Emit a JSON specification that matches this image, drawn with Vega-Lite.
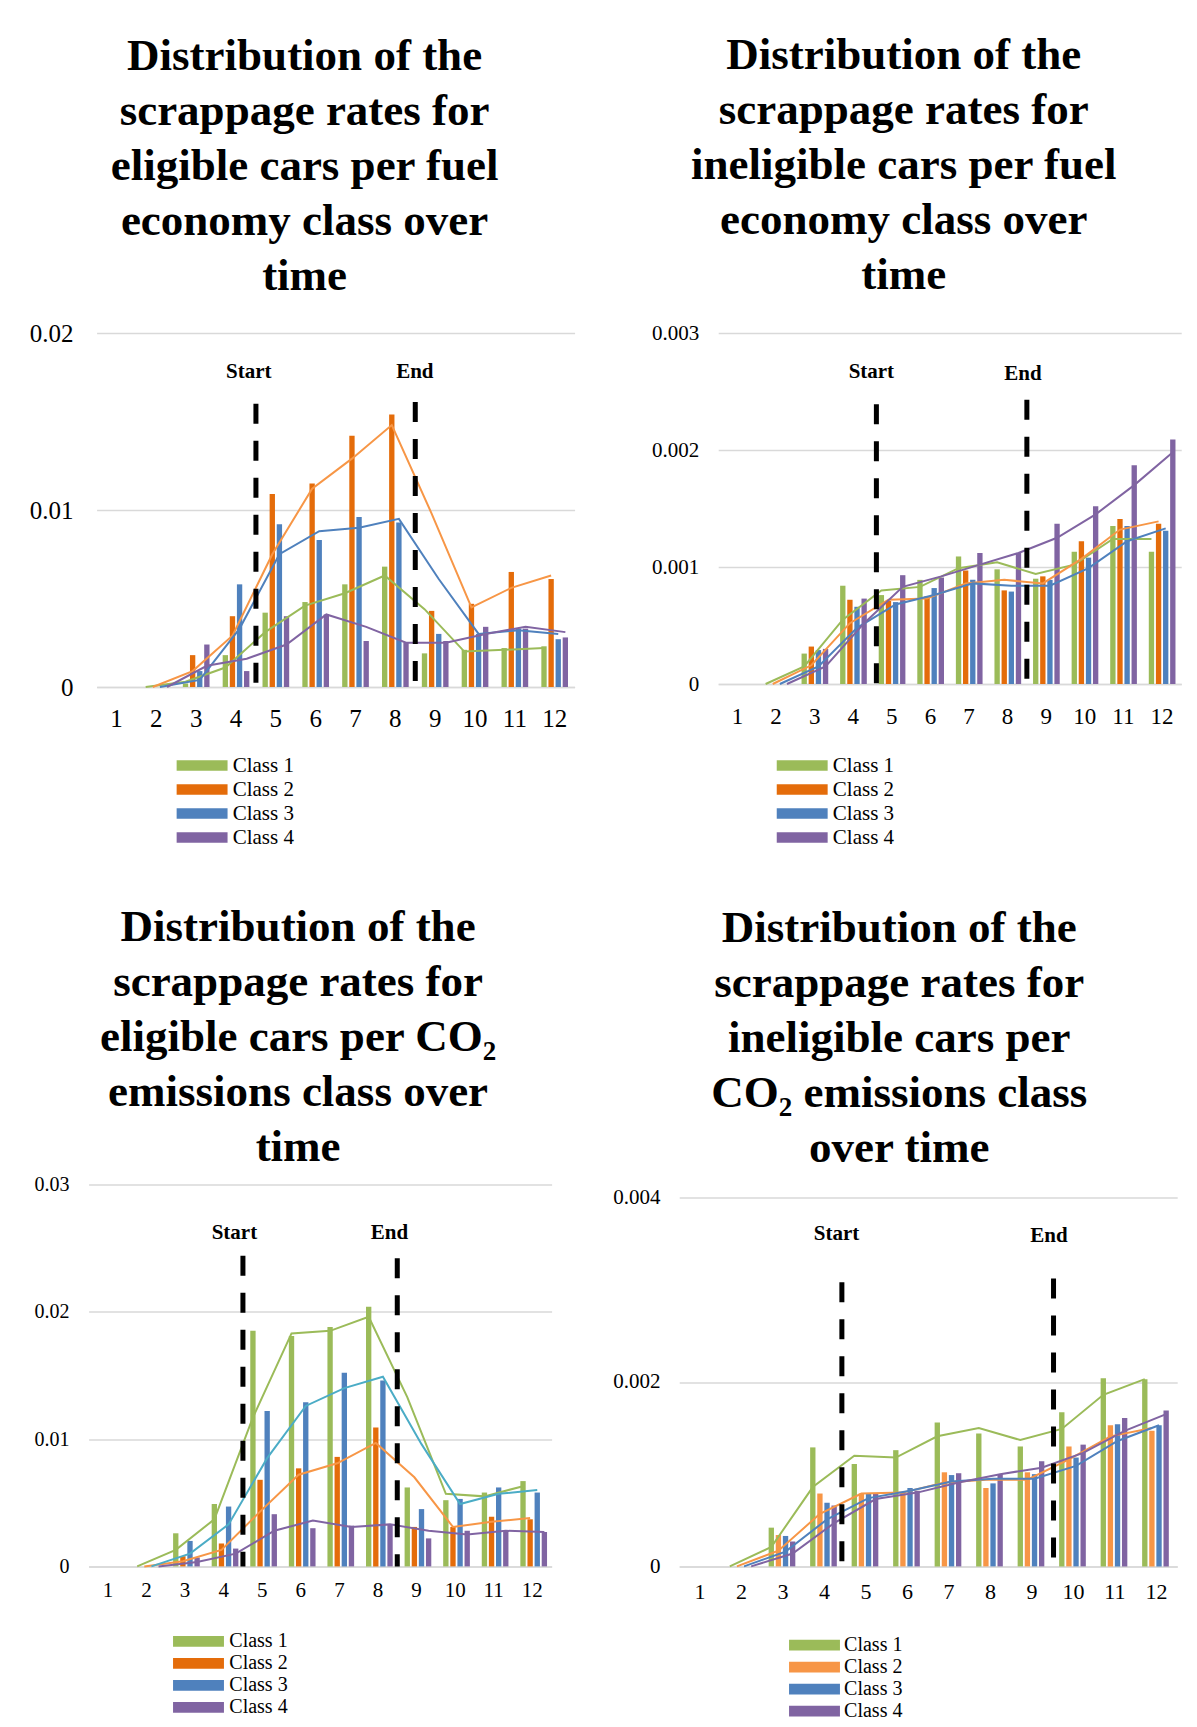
{
"$schema": "https://vega.github.io/schema/vega-lite/v6.json",
"background": "white",
"padding": {"left": 0, "top": 33, "right": 5, "bottom": 5},
"datasets": {
"b1": [
{"c":3,"k":"Class 1","v":0.0002},{"c":4,"k":"Class 1","v":0.0018},{"c":5,"k":"Class 1","v":0.0042},{"c":6,"k":"Class 1","v":0.0048},{"c":7,"k":"Class 1","v":0.0058},{"c":8,"k":"Class 1","v":0.0068},{"c":9,"k":"Class 1","v":0.0019},{"c":10,"k":"Class 1","v":0.0021},{"c":11,"k":"Class 1","v":0.0022},{"c":12,"k":"Class 1","v":0.0023},
{"c":3,"k":"Class 2","v":0.0018},{"c":4,"k":"Class 2","v":0.0040},{"c":5,"k":"Class 2","v":0.0109},{"c":6,"k":"Class 2","v":0.0115},{"c":7,"k":"Class 2","v":0.0142},{"c":8,"k":"Class 2","v":0.0154},{"c":9,"k":"Class 2","v":0.0043},{"c":10,"k":"Class 2","v":0.0047},{"c":11,"k":"Class 2","v":0.0065},{"c":12,"k":"Class 2","v":0.0061},
{"c":3,"k":"Class 3","v":0.0009},{"c":4,"k":"Class 3","v":0.0058},{"c":5,"k":"Class 3","v":0.0092},{"c":6,"k":"Class 3","v":0.0083},{"c":7,"k":"Class 3","v":0.0096},{"c":8,"k":"Class 3","v":0.0093},{"c":9,"k":"Class 3","v":0.0030},{"c":10,"k":"Class 3","v":0.0030},{"c":11,"k":"Class 3","v":0.0033},{"c":12,"k":"Class 3","v":0.0027},
{"c":3,"k":"Class 4","v":0.0024},{"c":4,"k":"Class 4","v":0.0009},{"c":5,"k":"Class 4","v":0.0040},{"c":6,"k":"Class 4","v":0.0041},{"c":7,"k":"Class 4","v":0.0026},{"c":8,"k":"Class 4","v":0.0025},{"c":9,"k":"Class 4","v":0.0026},{"c":10,"k":"Class 4","v":0.0034},{"c":11,"k":"Class 4","v":0.0033},{"c":12,"k":"Class 4","v":0.0028}
],
"l1": [
{"c":2,"k":"Class 1","v":0},{"c":3,"k":"Class 1","v":0.0003},{"c":4,"k":"Class 1","v":0.0011},{"c":5,"k":"Class 1","v":0.0031},{"c":6,"k":"Class 1","v":0.0046},{"c":7,"k":"Class 1","v":0.0053},{"c":8,"k":"Class 1","v":0.0063},{"c":9,"k":"Class 1","v":0.0044},{"c":10,"k":"Class 1","v":0.0020},{"c":11,"k":"Class 1","v":0.0021},{"c":12,"k":"Class 1","v":0.0022},
{"c":2,"k":"Class 2","v":0},{"c":3,"k":"Class 2","v":0.0009},{"c":4,"k":"Class 2","v":0.0029},{"c":5,"k":"Class 2","v":0.0075},{"c":6,"k":"Class 2","v":0.0112},{"c":7,"k":"Class 2","v":0.0129},{"c":8,"k":"Class 2","v":0.0148},{"c":9,"k":"Class 2","v":0.0098},{"c":10,"k":"Class 2","v":0.0045},{"c":11,"k":"Class 2","v":0.0056},{"c":12,"k":"Class 2","v":0.0063},
{"c":2,"k":"Class 3","v":0},{"c":3,"k":"Class 3","v":0.0004},{"c":4,"k":"Class 3","v":0.0033},{"c":5,"k":"Class 3","v":0.0075},{"c":6,"k":"Class 3","v":0.0088},{"c":7,"k":"Class 3","v":0.0090},{"c":8,"k":"Class 3","v":0.0095},{"c":9,"k":"Class 3","v":0.0061},{"c":10,"k":"Class 3","v":0.0030},{"c":11,"k":"Class 3","v":0.0032},{"c":12,"k":"Class 3","v":0.0030},
{"c":2,"k":"Class 4","v":0},{"c":3,"k":"Class 4","v":0.0012},{"c":4,"k":"Class 4","v":0.0016},{"c":5,"k":"Class 4","v":0.0024},{"c":6,"k":"Class 4","v":0.0041},{"c":7,"k":"Class 4","v":0.0034},{"c":8,"k":"Class 4","v":0.0025},{"c":9,"k":"Class 4","v":0.0025},{"c":10,"k":"Class 4","v":0.0030},{"c":11,"k":"Class 4","v":0.0034},{"c":12,"k":"Class 4","v":0.0031}
],
"r1": [{"p":4.5,"hi":0.016},{"p":8.5,"hi":0.0161}],
"t1": [{"p":4.32,"y":0.0178,"t":"Start"},{"p":8.49,"y":0.0178,"t":"End"}],
"b2": [
{"c":3,"k":"Class 1","v":0.00026},{"c":4,"k":"Class 1","v":0.00084},{"c":5,"k":"Class 1","v":0.00076},{"c":6,"k":"Class 1","v":0.00089},{"c":7,"k":"Class 1","v":0.00109},{"c":8,"k":"Class 1","v":0.00098},{"c":9,"k":"Class 1","v":0.0009},{"c":10,"k":"Class 1","v":0.00113},{"c":11,"k":"Class 1","v":0.00135},{"c":12,"k":"Class 1","v":0.00113},
{"c":3,"k":"Class 2","v":0.00032},{"c":4,"k":"Class 2","v":0.00072},{"c":5,"k":"Class 2","v":0.00071},{"c":6,"k":"Class 2","v":0.00075},{"c":7,"k":"Class 2","v":0.00097},{"c":8,"k":"Class 2","v":0.0008},{"c":9,"k":"Class 2","v":0.00092},{"c":10,"k":"Class 2","v":0.00122},{"c":11,"k":"Class 2","v":0.00141},{"c":12,"k":"Class 2","v":0.00137},
{"c":3,"k":"Class 3","v":0.00029},{"c":4,"k":"Class 3","v":0.00066},{"c":5,"k":"Class 3","v":0.0007},{"c":6,"k":"Class 3","v":0.00082},{"c":7,"k":"Class 3","v":0.00089},{"c":8,"k":"Class 3","v":0.00079},{"c":9,"k":"Class 3","v":0.00089},{"c":10,"k":"Class 3","v":0.00108},{"c":11,"k":"Class 3","v":0.00135},{"c":12,"k":"Class 3","v":0.00131},
{"c":3,"k":"Class 4","v":0.0003},{"c":4,"k":"Class 4","v":0.00073},{"c":5,"k":"Class 4","v":0.00093},{"c":6,"k":"Class 4","v":0.00091},{"c":7,"k":"Class 4","v":0.00112},{"c":8,"k":"Class 4","v":0.00112},{"c":9,"k":"Class 4","v":0.00137},{"c":10,"k":"Class 4","v":0.00152},{"c":11,"k":"Class 4","v":0.00187},{"c":12,"k":"Class 4","v":0.00209}
],
"l2": [
{"c":2,"k":"Class 1","v":0},{"c":3,"k":"Class 1","v":0.00015},{"c":4,"k":"Class 1","v":0.00055},{"c":5,"k":"Class 1","v":0.0008},{"c":6,"k":"Class 1","v":0.00083},{"c":7,"k":"Class 1","v":0.00099},{"c":8,"k":"Class 1","v":0.00104},{"c":9,"k":"Class 1","v":0.00094},{"c":10,"k":"Class 1","v":0.00102},{"c":11,"k":"Class 1","v":0.00124},{"c":12,"k":"Class 1","v":0.00124},
{"c":2,"k":"Class 2","v":0},{"c":3,"k":"Class 2","v":0.00016},{"c":4,"k":"Class 2","v":0.00052},{"c":5,"k":"Class 2","v":0.00072},{"c":6,"k":"Class 2","v":0.00073},{"c":7,"k":"Class 2","v":0.00086},{"c":8,"k":"Class 2","v":0.00089},{"c":9,"k":"Class 2","v":0.00086},{"c":10,"k":"Class 2","v":0.00107},{"c":11,"k":"Class 2","v":0.00132},{"c":12,"k":"Class 2","v":0.00139},
{"c":2,"k":"Class 3","v":0},{"c":3,"k":"Class 3","v":0.00015},{"c":4,"k":"Class 3","v":0.00048},{"c":5,"k":"Class 3","v":0.00068},{"c":6,"k":"Class 3","v":0.00076},{"c":7,"k":"Class 3","v":0.00086},{"c":8,"k":"Class 3","v":0.00084},{"c":9,"k":"Class 3","v":0.00084},{"c":10,"k":"Class 3","v":0.00099},{"c":11,"k":"Class 3","v":0.00122},{"c":12,"k":"Class 3","v":0.00133},
{"c":2,"k":"Class 4","v":0},{"c":3,"k":"Class 4","v":0.00015},{"c":4,"k":"Class 4","v":0.00052},{"c":5,"k":"Class 4","v":0.00083},{"c":6,"k":"Class 4","v":0.00092},{"c":7,"k":"Class 4","v":0.00102},{"c":8,"k":"Class 4","v":0.00112},{"c":9,"k":"Class 4","v":0.00125},{"c":10,"k":"Class 4","v":0.00145},{"c":11,"k":"Class 4","v":0.0017},{"c":12,"k":"Class 4","v":0.00198}
],
"r2": [{"p":4.6,"hi":0.00239},{"p":8.5,"hi":0.00243}],
"t2": [{"p":4.47,"y":0.00267,"t":"Start"},{"p":8.4,"y":0.00265,"t":"End"}],
"b3": [
{"c":3,"k":"Class 1","v":0.0026},{"c":4,"k":"Class 1","v":0.0049},{"c":5,"k":"Class 1","v":0.0185},{"c":6,"k":"Class 1","v":0.0181},{"c":7,"k":"Class 1","v":0.0188},{"c":8,"k":"Class 1","v":0.0204},{"c":9,"k":"Class 1","v":0.0062},{"c":10,"k":"Class 1","v":0.0052},{"c":11,"k":"Class 1","v":0.0058},{"c":12,"k":"Class 1","v":0.0067},
{"c":3,"k":"Class 2","v":0.0008},{"c":4,"k":"Class 2","v":0.0018},{"c":5,"k":"Class 2","v":0.0068},{"c":6,"k":"Class 2","v":0.0077},{"c":7,"k":"Class 2","v":0.0086},{"c":8,"k":"Class 2","v":0.0109},{"c":9,"k":"Class 2","v":0.0031},{"c":10,"k":"Class 2","v":0.0031},{"c":11,"k":"Class 2","v":0.0039},{"c":12,"k":"Class 2","v":0.0037},
{"c":3,"k":"Class 3","v":0.002},{"c":4,"k":"Class 3","v":0.0047},{"c":5,"k":"Class 3","v":0.0122},{"c":6,"k":"Class 3","v":0.0129},{"c":7,"k":"Class 3","v":0.0152},{"c":8,"k":"Class 3","v":0.0146},{"c":9,"k":"Class 3","v":0.0045},{"c":10,"k":"Class 3","v":0.0053},{"c":11,"k":"Class 3","v":0.0062},{"c":12,"k":"Class 3","v":0.0058},
{"c":3,"k":"Class 4","v":0.0007},{"c":4,"k":"Class 4","v":0.0014},{"c":5,"k":"Class 4","v":0.0041},{"c":6,"k":"Class 4","v":0.003},{"c":7,"k":"Class 4","v":0.0032},{"c":8,"k":"Class 4","v":0.0033},{"c":9,"k":"Class 4","v":0.0022},{"c":10,"k":"Class 4","v":0.0028},{"c":11,"k":"Class 4","v":0.0028},{"c":12,"k":"Class 4","v":0.0027}
],
"l3": [
{"c":2,"k":"Class 1","v":0},{"c":3,"k":"Class 1","v":0.0013},{"c":4,"k":"Class 1","v":0.0037},{"c":5,"k":"Class 1","v":0.0117},{"c":6,"k":"Class 1","v":0.0183},{"c":7,"k":"Class 1","v":0.0185},{"c":8,"k":"Class 1","v":0.0196},{"c":9,"k":"Class 1","v":0.0133},{"c":10,"k":"Class 1","v":0.0057},{"c":11,"k":"Class 1","v":0.0055},{"c":12,"k":"Class 1","v":0.0063},
{"c":2,"k":"Class 2","v":0},{"c":3,"k":"Class 2","v":0.0004},{"c":4,"k":"Class 2","v":0.0013},{"c":5,"k":"Class 2","v":0.0043},{"c":6,"k":"Class 2","v":0.0072},{"c":7,"k":"Class 2","v":0.0081},{"c":8,"k":"Class 2","v":0.0097},{"c":9,"k":"Class 2","v":0.007},{"c":10,"k":"Class 2","v":0.0031},{"c":11,"k":"Class 2","v":0.0035},{"c":12,"k":"Class 2","v":0.0038},
{"c":2,"k":"Class 3","v":0},{"c":3,"k":"Class 3","v":0.001},{"c":4,"k":"Class 3","v":0.0033},{"c":5,"k":"Class 3","v":0.0085},{"c":6,"k":"Class 3","v":0.0126},{"c":7,"k":"Class 3","v":0.014},{"c":8,"k":"Class 3","v":0.0149},{"c":9,"k":"Class 3","v":0.0096},{"c":10,"k":"Class 3","v":0.0049},{"c":11,"k":"Class 3","v":0.0057},{"c":12,"k":"Class 3","v":0.006},
{"c":2,"k":"Class 4","v":0},{"c":3,"k":"Class 4","v":0.00035},{"c":4,"k":"Class 4","v":0.001},{"c":5,"k":"Class 4","v":0.0028},{"c":6,"k":"Class 4","v":0.0036},{"c":7,"k":"Class 4","v":0.0031},{"c":8,"k":"Class 4","v":0.0033},{"c":9,"k":"Class 4","v":0.0028},{"c":10,"k":"Class 4","v":0.0025},{"c":11,"k":"Class 4","v":0.0028},{"c":12,"k":"Class 4","v":0.0027}
],
"r3": [{"p":4.5,"hi":0.0244},{"p":8.5,"hi":0.0242}],
"t3": [{"p":4.28,"y":0.0262,"t":"Start"},{"p":8.3,"y":0.0262,"t":"End"}],
"b4": [
{"c":3,"k":"Class 1","v":0.00042},{"c":4,"k":"Class 1","v":0.00129},{"c":5,"k":"Class 1","v":0.00111},{"c":6,"k":"Class 1","v":0.00126},{"c":7,"k":"Class 1","v":0.00156},{"c":8,"k":"Class 1","v":0.00144},{"c":9,"k":"Class 1","v":0.0013},{"c":10,"k":"Class 1","v":0.00167},{"c":11,"k":"Class 1","v":0.00204},{"c":12,"k":"Class 1","v":0.00203},
{"c":3,"k":"Class 2","v":0.00034},{"c":4,"k":"Class 2","v":0.00079},{"c":5,"k":"Class 2","v":0.00079},{"c":6,"k":"Class 2","v":0.0008},{"c":7,"k":"Class 2","v":0.00102},{"c":8,"k":"Class 2","v":0.00085},{"c":9,"k":"Class 2","v":0.00102},{"c":10,"k":"Class 2","v":0.0013},{"c":11,"k":"Class 2","v":0.00153},{"c":12,"k":"Class 2","v":0.00147},
{"c":3,"k":"Class 3","v":0.00033},{"c":4,"k":"Class 3","v":0.00069},{"c":5,"k":"Class 3","v":0.00079},{"c":6,"k":"Class 3","v":0.00085},{"c":7,"k":"Class 3","v":0.00099},{"c":8,"k":"Class 3","v":0.0009},{"c":9,"k":"Class 3","v":0.001},{"c":10,"k":"Class 3","v":0.00118},{"c":11,"k":"Class 3","v":0.00154},{"c":12,"k":"Class 3","v":0.00153},
{"c":3,"k":"Class 4","v":0.00027},{"c":4,"k":"Class 4","v":0.00066},{"c":5,"k":"Class 4","v":0.00079},{"c":6,"k":"Class 4","v":0.00082},{"c":7,"k":"Class 4","v":0.00101},{"c":8,"k":"Class 4","v":0.001},{"c":9,"k":"Class 4","v":0.00114},{"c":10,"k":"Class 4","v":0.00132},{"c":11,"k":"Class 4","v":0.00161},{"c":12,"k":"Class 4","v":0.00169}
],
"l4": [
{"c":2,"k":"Class 1","v":0},{"c":3,"k":"Class 1","v":0.00021},{"c":4,"k":"Class 1","v":0.00086},{"c":5,"k":"Class 1","v":0.0012},{"c":6,"k":"Class 1","v":0.00118},{"c":7,"k":"Class 1","v":0.00141},{"c":8,"k":"Class 1","v":0.0015},{"c":9,"k":"Class 1","v":0.00137},{"c":10,"k":"Class 1","v":0.00149},{"c":11,"k":"Class 1","v":0.00186},{"c":12,"k":"Class 1","v":0.00203},
{"c":2,"k":"Class 2","v":0},{"c":3,"k":"Class 2","v":0.00017},{"c":4,"k":"Class 2","v":0.00057},{"c":5,"k":"Class 2","v":0.00079},{"c":6,"k":"Class 2","v":0.0008},{"c":7,"k":"Class 2","v":0.00091},{"c":8,"k":"Class 2","v":0.00094},{"c":9,"k":"Class 2","v":0.00094},{"c":10,"k":"Class 2","v":0.00116},{"c":11,"k":"Class 2","v":0.00141},{"c":12,"k":"Class 2","v":0.0015},
{"c":2,"k":"Class 3","v":0},{"c":3,"k":"Class 3","v":0.00016},{"c":4,"k":"Class 3","v":0.00051},{"c":5,"k":"Class 3","v":0.00074},{"c":6,"k":"Class 3","v":0.00082},{"c":7,"k":"Class 3","v":0.00092},{"c":8,"k":"Class 3","v":0.00095},{"c":9,"k":"Class 3","v":0.00095},{"c":10,"k":"Class 3","v":0.00109},{"c":11,"k":"Class 3","v":0.00136},{"c":12,"k":"Class 3","v":0.00153},
{"c":2,"k":"Class 4","v":0},{"c":3,"k":"Class 4","v":0.00014},{"c":4,"k":"Class 4","v":0.00047},{"c":5,"k":"Class 4","v":0.00073},{"c":6,"k":"Class 4","v":0.0008},{"c":7,"k":"Class 4","v":0.00091},{"c":8,"k":"Class 4","v":0.001},{"c":9,"k":"Class 4","v":0.00107},{"c":10,"k":"Class 4","v":0.00123},{"c":11,"k":"Class 4","v":0.00147},{"c":12,"k":"Class 4","v":0.00165}
],
"r4": [{"p":4.42,"hi":0.00308},{"p":9.52,"hi":0.00312}],
"t4": [{"p":4.29,"y":0.0036,"t":"Start"},{"p":9.41,"y":0.00358,"t":"End"}],
"sp": [{"a":1}]
},
"concat": [
{"width": 1, "height": 1, "data": {"name": "sp"}, "mark": {"type": "rect", "opacity": 0}, "encoding": {}},
{
"width": 478, "height": 354,
"title": {"text": ["Distribution of the", "scrappage rates for", "eligible cars per fuel", "economy class over", "time"], "dx": -31, "offset": 22},
"layer": [
{"layer": [
{"data": {"name": "b1"}, "mark": {"type": "bar"},
"encoding": {
"x": {"field": "c", "type": "ordinal", "title": null, "scale": {"domain": [1,2,3,4,5,6,7,8,9,10,11,12], "paddingInner": 0.33, "paddingOuter": 0.165}, "axis": {"labelFontSize": 25, "labelPadding": 31}},
"xOffset": {"field": "k", "type": "nominal", "scale": {"paddingInner": 0.25, "paddingOuter": 0}},
"y": {"field": "v", "type": "quantitative", "title": null, "scale": {"domain": [0, 0.02], "nice": false}, "axis": {"values": [0, 0.01, 0.02], "format": "~g", "labelFontSize": 25, "labelPadding": 23.5, "minExtent": 69, "maxExtent": 69}},
"color": {"field": "k", "type": "nominal", "scale": {"domain": ["Class 1","Class 2","Class 3","Class 4"], "range": ["#9BBB59","#E46C0A","#4F81BD","#8064A2"]}, "legend": {"title": null, "legendX": 95, "legendY": 422, "labelFontSize": 21, "rowPadding": 2, "labelOffset": 20.1}}
}},
{"data": {"name": "l1"}, "mark": {"type": "line", "strokeWidth": 2},
"encoding": {
"x": {"field": "c", "type": "ordinal", "title": null, "scale": {"domain": [1,2,3,4,5,6,7,8,9,10,11,12], "paddingInner": 0.33, "paddingOuter": 0.165}},
"xOffset": {"field": "k", "type": "nominal", "scale": {"paddingInner": 0.25, "paddingOuter": 0}},
"y": {"field": "v", "type": "quantitative", "title": null},
"stroke": {"field": "k", "type": "nominal", "scale": {"domain": ["Class 1","Class 2","Class 3","Class 4"], "range": ["#9BBB59","#F79646","#4F81BD","#8064A2"]}, "legend": null}
}}
]},
{"data": {"name": "r1"}, "mark": {"type": "rule", "color": "black", "strokeWidth": 5, "strokeDash": [20, 17]},
"encoding": {
"x": {"field": "p", "type": "quantitative", "scale": {"domain": [0.5, 12.5], "nice": false, "zero": false}, "axis": null},
"y": {"field": "hi", "type": "quantitative", "title": null},
"y2": {"datum": 0}
}},
{"data": {"name": "t1"}, "mark": {"type": "text", "fontWeight": "bold", "fontSize": 21, "baseline": "middle", "align": "center", "color": "black"},
"encoding": {
"x": {"field": "p", "type": "quantitative", "scale": {"domain": [0.5, 12.5], "nice": false, "zero": false}, "axis": null},
"y": {"field": "y", "type": "quantitative", "title": null},
"text": {"field": "t"}
}}
],
"resolve": {"scale": {"x": "independent"}}
},
{
"width": 463, "height": 351,
"title": {"text": ["Distribution of the", "scrappage rates for", "ineligible cars per fuel", "economy class over", "time"], "dx": -46, "offset": 24},
"layer": [
{"layer": [
{"data": {"name": "b2"}, "mark": {"type": "bar"},
"encoding": {
"x": {"field": "c", "type": "ordinal", "title": null, "scale": {"domain": [1,2,3,4,5,6,7,8,9,10,11,12], "paddingInner": 0.32, "paddingOuter": 0.16}, "axis": {"labelFontSize": 23, "labelPadding": 32}},
"xOffset": {"field": "k", "type": "nominal", "scale": {"paddingInner": 0.25, "paddingOuter": 0}},
"y": {"field": "v", "type": "quantitative", "title": null, "scale": {"domain": [0, 0.003], "nice": false}, "axis": {"values": [0, 0.001, 0.002, 0.003], "format": "~g", "labelFontSize": 21, "labelPadding": 19.5, "minExtent": 116.5, "maxExtent": 116.5}},
"color": {"field": "k", "type": "nominal", "scale": {"domain": ["Class 1","Class 2","Class 3","Class 4"], "range": ["#9BBB59","#E46C0A","#4F81BD","#8064A2"]}, "legend": {"title": null, "legendX": 73.5, "legendY": 422, "labelFontSize": 21, "rowPadding": 2, "labelOffset": 20.1}}
}},
{"data": {"name": "l2"}, "mark": {"type": "line", "strokeWidth": 2},
"encoding": {
"x": {"field": "c", "type": "ordinal", "title": null, "scale": {"domain": [1,2,3,4,5,6,7,8,9,10,11,12], "paddingInner": 0.32, "paddingOuter": 0.16}},
"xOffset": {"field": "k", "type": "nominal", "scale": {"paddingInner": 0.25, "paddingOuter": 0}},
"y": {"field": "v", "type": "quantitative", "title": null},
"stroke": {"field": "k", "type": "nominal", "scale": {"domain": ["Class 1","Class 2","Class 3","Class 4"], "range": ["#9BBB59","#F79646","#4F81BD","#8064A2"]}, "legend": null}
}}
]},
{"data": {"name": "r2"}, "mark": {"type": "rule", "color": "black", "strokeWidth": 5, "strokeDash": [20, 17]},
"encoding": {
"x": {"field": "p", "type": "quantitative", "scale": {"domain": [0.5, 12.5], "nice": false, "zero": false}, "axis": null},
"y": {"field": "hi", "type": "quantitative", "title": null},
"y2": {"datum": 0}
}},
{"data": {"name": "t2"}, "mark": {"type": "text", "fontWeight": "bold", "fontSize": 21, "baseline": "middle", "align": "center", "color": "black"},
"encoding": {
"x": {"field": "p", "type": "quantitative", "scale": {"domain": [0.5, 12.5], "nice": false, "zero": false}, "axis": null},
"y": {"field": "y", "type": "quantitative", "title": null},
"text": {"field": "t"}
}}
],
"resolve": {"scale": {"x": "independent"}}
},
{"width": 1, "height": 1, "data": {"name": "sp"}, "mark": {"type": "rect", "opacity": 0}, "encoding": {}},
{
"width": 463, "height": 382,
"title": {"text": ["Distribution of the", "scrappage rates for", "eligible cars per CO₂", "emissions class over", "time"], "dx": -22, "offset": 4},
"layer": [
{"layer": [
{"data": {"name": "b3"}, "mark": {"type": "bar"},
"encoding": {
"x": {"field": "c", "type": "ordinal", "title": null, "scale": {"domain": [1,2,3,4,5,6,7,8,9,10,11,12], "paddingInner": 0.38, "paddingOuter": 0.19}, "axis": {"labelFontSize": 21, "labelPadding": 24}},
"xOffset": {"field": "k", "type": "nominal", "scale": {"paddingInner": 0, "paddingOuter": 0}},
"y": {"field": "v", "type": "quantitative", "title": null, "scale": {"domain": [0, 0.03], "nice": false}, "axis": {"values": [0, 0.01, 0.02, 0.03], "format": "~g", "labelFontSize": 20, "labelPadding": 19.6, "minExtent": 61, "maxExtent": 61}},
"color": {"field": "k", "type": "nominal", "scale": {"domain": ["Class 1","Class 2","Class 3","Class 4"], "range": ["#9BBB59","#E46C0A","#4F81BD","#8064A2"]}, "legend": {"title": null, "legendX": 99.9, "legendY": 447, "labelFontSize": 20, "rowPadding": 2, "labelOffset": 20.8}}
}},
{"data": {"name": "l3"}, "mark": {"type": "line", "strokeWidth": 2},
"encoding": {
"x": {"field": "c", "type": "ordinal", "title": null, "scale": {"domain": [1,2,3,4,5,6,7,8,9,10,11,12], "paddingInner": 0.38, "paddingOuter": 0.19}},
"xOffset": {"field": "k", "type": "nominal", "scale": {"paddingInner": 0, "paddingOuter": 0}},
"y": {"field": "v", "type": "quantitative", "title": null},
"stroke": {"field": "k", "type": "nominal", "scale": {"domain": ["Class 1","Class 2","Class 3","Class 4"], "range": ["#9BBB59","#F79646","#4BACC6","#8064A2"]}, "legend": null}
}}
]},
{"data": {"name": "r3"}, "mark": {"type": "rule", "color": "black", "strokeWidth": 5, "strokeDash": [20, 17]},
"encoding": {
"x": {"field": "p", "type": "quantitative", "scale": {"domain": [0.5, 12.5], "nice": false, "zero": false}, "axis": null},
"y": {"field": "hi", "type": "quantitative", "title": null},
"y2": {"datum": 0}
}},
{"data": {"name": "t3"}, "mark": {"type": "text", "fontWeight": "bold", "fontSize": 21, "baseline": "middle", "align": "center", "color": "black"},
"encoding": {
"x": {"field": "p", "type": "quantitative", "scale": {"domain": [0.5, 12.5], "nice": false, "zero": false}, "axis": null},
"y": {"field": "y", "type": "quantitative", "title": null},
"text": {"field": "t"}
}}
],
"resolve": {"scale": {"x": "independent"}}
},
{
"width": 498, "height": 369,
"title": {"text": ["Distribution of the", "scrappage rates for", "ineligible cars per", "CO₂ emissions class", "over time"], "dx": -29, "offset": 15.6},
"layer": [
{"layer": [
{"data": {"name": "b4"}, "mark": {"type": "bar"},
"encoding": {
"x": {"field": "c", "type": "ordinal", "title": null, "scale": {"domain": [1,2,3,4,5,6,7,8,9,10,11,12], "paddingInner": 0.31, "paddingOuter": 0.155}, "axis": {"labelFontSize": 22, "labelPadding": 24.7}},
"xOffset": {"field": "k", "type": "nominal", "scale": {"paddingInner": 0.1, "paddingOuter": 0}},
"y": {"field": "v", "type": "quantitative", "title": null, "scale": {"domain": [0, 0.004], "nice": false}, "axis": {"values": [0, 0.002, 0.004], "format": "~g", "labelFontSize": 21, "labelPadding": 19.2, "minExtent": 85.8, "maxExtent": 85.8}},
"color": {"field": "k", "type": "nominal", "scale": {"domain": ["Class 1","Class 2","Class 3","Class 4"], "range": ["#9BBB59","#F79646","#4F81BD","#8064A2"]}, "legend": {"title": null, "legendX": 125.3, "legendY": 437.7, "labelFontSize": 20, "rowPadding": 2, "labelOffset": 19.6}}
}},
{"data": {"name": "l4"}, "mark": {"type": "line", "strokeWidth": 2},
"encoding": {
"x": {"field": "c", "type": "ordinal", "title": null, "scale": {"domain": [1,2,3,4,5,6,7,8,9,10,11,12], "paddingInner": 0.31, "paddingOuter": 0.155}},
"xOffset": {"field": "k", "type": "nominal", "scale": {"paddingInner": 0.1, "paddingOuter": 0}},
"y": {"field": "v", "type": "quantitative", "title": null},
"stroke": {"field": "k", "type": "nominal", "scale": {"domain": ["Class 1","Class 2","Class 3","Class 4"], "range": ["#9BBB59","#F79646","#4F81BD","#8064A2"]}, "legend": null}
}}
]},
{"data": {"name": "r4"}, "mark": {"type": "rule", "color": "black", "strokeWidth": 5, "strokeDash": [20, 17]},
"encoding": {
"x": {"field": "p", "type": "quantitative", "scale": {"domain": [0.5, 12.5], "nice": false, "zero": false}, "axis": null},
"y": {"field": "hi", "type": "quantitative", "title": null},
"y2": {"datum": 0}
}},
{"data": {"name": "t4"}, "mark": {"type": "text", "fontWeight": "bold", "fontSize": 21, "baseline": "middle", "align": "center", "color": "black"},
"encoding": {
"x": {"field": "p", "type": "quantitative", "scale": {"domain": [0.5, 12.5], "nice": false, "zero": false}, "axis": null},
"y": {"field": "y", "type": "quantitative", "title": null},
"text": {"field": "t"}
}}
],
"resolve": {"scale": {"x": "independent"}}
}
],
"columns": 3,
"align": "none",
"spacing": {"row": 57.4, "column": 26.6},
"resolve": {"scale": {"color": "independent", "stroke": "independent"}, "legend": {"color": "independent"}},
"config": {
"font": "Liberation Serif",
"view": {"stroke": null},
"axis": {"labelFont": "Liberation Serif", "labelColor": "#000000", "ticks": false, "tickSize": 0, "labelOverlap": false, "titleFont": "Liberation Serif"},
"axisX": {"grid": false, "domain": true, "domainColor": "#D9D9D9", "domainWidth": 1.5, "labelAngle": 0, "labelBaseline": "middle"},
"axisY": {"grid": true, "gridColor": "#D9D9D9", "gridWidth": 1.5, "domain": false, "labelBaseline": "middle"},
"legend": {"orient": "none", "direction": "vertical", "symbolType": "M-4,-0.84H4V0.84H-4Z", "symbolSize": 162, "symbolStrokeWidth": 0, "labelFont": "Liberation Serif", "labelColor": "#000000", "padding": 0},
"title": {"font": "Liberation Serif", "fontSize": 45, "fontWeight": "bold", "lineHeight": 55, "color": "#000000", "anchor": "middle", "frame": "group"},
"text": {"font": "Liberation Serif"}
}
}
